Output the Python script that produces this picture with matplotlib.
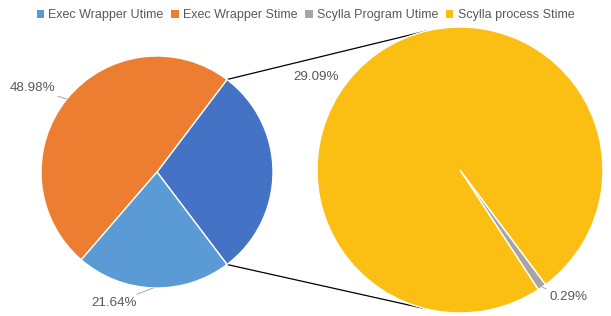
import numpy as np
import matplotlib.pyplot as plt
from matplotlib.patches import Patch

# main pie (the "other" slice is split into the second pie)
main_labels = ["Other", "Exec Wrapper Stime", "Exec Wrapper Utime"]
main_values = [29.38, 48.98, 21.64]
main_colors = ["#4472C4", "#ED7D31", "#5B9BD5"]

# second pie
sub_labels = ["Scylla Program Utime", "Scylla process Stime"]
sub_values = [0.29, 29.09]
sub_colors = ["#A5A5A5", "#FBBF14"]

legend_order = ["Exec Wrapper Utime", "Exec Wrapper Stime",
                "Scylla Program Utime", "Scylla process Stime"]

plt.rcParams['font.family'] = ['Liberation Sans', 'DejaVu Sans']
txt_color = "#595959"

W, H = 611, 316
fig = plt.figure(figsize=(W / 100, H / 100), dpi=100)
ax = fig.add_axes([0, 0, 1, 1])

# geometry in pixel units (y from bottom)
c1, r1 = (157, 316 - 172), 116
c2, r2 = (460, 316 - 170), 143

other_deg = main_values[0] / sum(main_values) * 360
w1, _ = ax.pie(main_values, colors=main_colors, center=c1, radius=r1,
               startangle=-other_deg / 2, counterclock=True, frame=True,
               wedgeprops=dict(edgecolor="white", linewidth=1))

gray_deg = sub_values[0] / sum(sub_values) * 360
w2, _ = ax.pie(sub_values, colors=sub_colors, center=c2, radius=r2,
               startangle=-55 - gray_deg / 2, counterclock=True, frame=True,
               wedgeprops=dict(edgecolor="white", linewidth=1))

ax.set_xlim(0, W)
ax.set_ylim(0, H)
ax.set_aspect("equal")
ax.axis("off")


def edge(c, r, deg):
    a = np.deg2rad(deg)
    return c[0] + r * np.cos(a), c[1] + r * np.sin(a)


# connector lines between the pies
p_top = edge(c1, r1, w1[0].theta2)
p_bot = edge(c1, r1, w1[0].theta1)
q_top = edge(c2, r2, 104)
q_bot = edge(c2, r2, 256)
ax.plot([p_top[0], q_top[0]], [p_top[1], q_top[1]], color="black", lw=0.9, zorder=0)
ax.plot([p_bot[0], q_bot[0]], [p_bot[1], q_bot[1]], color="black", lw=0.9, zorder=0)

lead = dict(arrowstyle="-", color="#A6A6A6", lw=0.7, shrinkA=0, shrinkB=0)


def mid(w):
    return (w.theta1 + w.theta2) / 2


fs = 9.6
# data labels
ax.annotate(f"{main_values[1]:.2f}%", xy=edge(c1, r1, mid(w1[1])), xytext=(55, 316 - 88),
            ha="right", va="center", fontsize=fs, color=txt_color, arrowprops=lead)
ax.annotate(f"{main_values[2]:.2f}%", xy=edge(c1, r1, mid(w1[2])), xytext=(137, 316 - 303),
            ha="right", va="center", fontsize=fs, color=txt_color, arrowprops=lead)
ax.annotate(f"{sub_values[1]:.2f}%", xy=(339, 316 - 77), xytext=(339, 316 - 77),
            ha="right", va="center", fontsize=fs, color=txt_color)
ax.annotate(f"{sub_values[0]:.2f}%", xy=edge(c2, r2, mid(w2[0])), xytext=(549, 316 - 297),
            ha="left", va="center", fontsize=fs, color=txt_color, arrowprops=lead)

color_of = dict(zip(main_labels + sub_labels, main_colors + sub_colors))
handles = [Patch(facecolor=color_of[n], label=n) for n in legend_order]
fig.legend(handles=handles, loc="upper center", bbox_to_anchor=(0.5, 1.0), ncol=4,
           frameon=False, fontsize=9.0, labelcolor=txt_color, handlelength=0.6,
           handleheight=0.6, handletextpad=0.35, columnspacing=0.6, borderpad=0.25)

fig.savefig("out.png", dpi=100)
